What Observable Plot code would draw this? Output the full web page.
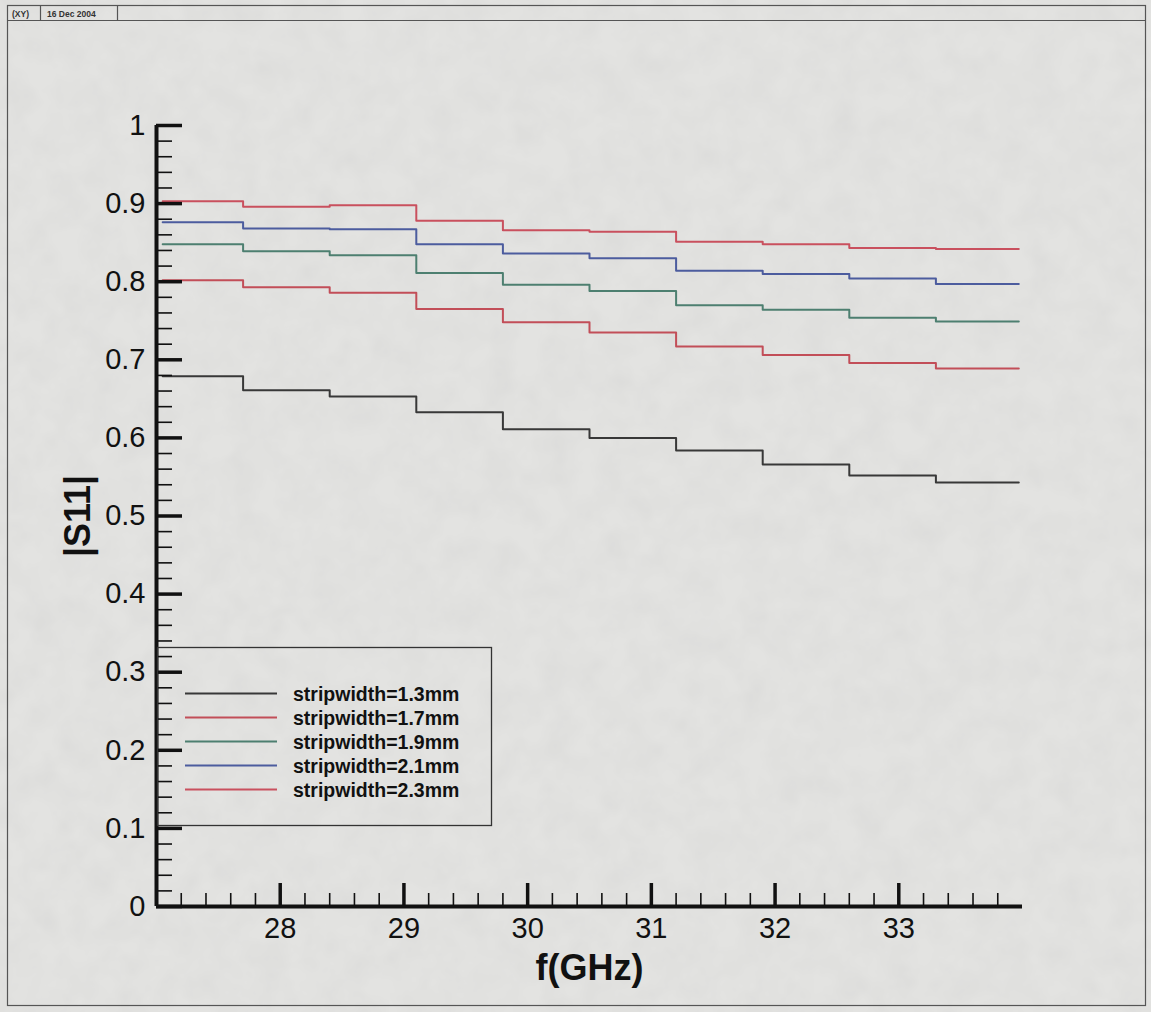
<!DOCTYPE html>
<html><head><meta charset="utf-8">
<script src="https://cdn.jsdelivr.net/npm/d3@7"></script>
<script src="https://cdn.jsdelivr.net/npm/@observablehq/plot@0.6"></script>
<style>
body{margin:0;background:#e3e3e1;}
#wrap{position:relative;width:1151px;height:1012px;background:#e3e3e1;overflow:hidden;font-family:"Liberation Sans",Arial,sans-serif;}
#wrap svg{position:absolute;left:0;top:0;}
</style></head><body><div id="wrap"></div>
<script>
// Frequency breakpoints (GHz) where each step starts; last entry is the end of the data
const freqBreaks = [27.05, 27.7, 28.4, 29.1, 29.8, 30.5, 31.2, 31.9, 32.6, 33.3, 33.97];
const seriesNames = ["stripwidth=1.3mm","stripwidth=1.7mm","stripwidth=1.9mm","stripwidth=2.1mm","stripwidth=2.3mm"];
const seriesColors = ["#383838","#c24e58","#4d7f70","#4c5c9e","#c9505e"];
const s13 = [0.679, 0.661, 0.653, 0.633, 0.611, 0.600, 0.584, 0.566, 0.552, 0.543];
const s17 = [0.802, 0.793, 0.786, 0.765, 0.748, 0.735, 0.717, 0.706, 0.696, 0.689];
const s19 = [0.848, 0.839, 0.834, 0.811, 0.796, 0.788, 0.770, 0.764, 0.754, 0.749];
const s21 = [0.876, 0.868, 0.867, 0.848, 0.836, 0.830, 0.814, 0.810, 0.804, 0.797];
const s23 = [0.903, 0.896, 0.898, 0.878, 0.866, 0.864, 0.851, 0.848, 0.843, 0.842];
const xMajor = [28, 29, 30, 31, 32, 33];
const xMinor = [27.2,27.4,27.6,27.8,28.2,28.4,28.6,28.8,29.2,29.4,29.6,29.8,30.2,30.4,30.6,30.8,31.2,31.4,31.6,31.8,32.2,32.4,32.6,32.8,33.2,33.4,33.6,33.8];
const yMajor = [0, 0.1, 0.2, 0.3, 0.4, 0.5, 0.6, 0.7, 0.8, 0.9, 1];
const yMinor = d3.range(0, 50).map(i => +(i * 0.02).toFixed(2)).filter(v => Math.round(v * 100) % 10 !== 0);

const allSeries = [s13, s17, s19, s21, s23];
const rows = [];
allSeries.forEach((vals, k) => {
  freqBreaks.forEach((f, i) => rows.push({name: seriesNames[k], f, s: vals[Math.min(i, vals.length - 1)]}));
});

const FONT = "'Liberation Sans', Arial, sans-serif";

// subtle paper texture behind everything
const bg = d3.select("#wrap").append("svg").attr("width", 1151).attr("height", 1012);
const flt = bg.append("defs").append("filter").attr("id", "paper").attr("x", 0).attr("y", 0).attr("width", "100%").attr("height", "100%");
flt.append("feTurbulence").attr("type", "fractalNoise").attr("baseFrequency", 0.035).attr("numOctaves", 3).attr("seed", 7);
flt.append("feColorMatrix").attr("type", "matrix").attr("values", "0 0 0 0 0.5  0 0 0 0 0.5  0 0 0 0 0.5  0.14 0.14 0.14 0 -0.16");
bg.append("rect").attr("width", 1151).attr("height", 1012).attr("fill", "#e3e3e1");
bg.append("rect").attr("width", 1151).attr("height", 1012).attr("filter", "url(#paper)");

const chart = Plot.plot({
  width: 1151, height: 1012,
  marginLeft: 156, marginRight: 129, marginTop: 125, marginBottom: 106,
  style: {background: "transparent", fontFamily: FONT, color: "#111", overflow: "visible"},
  x: {domain: [27, 34]},
  y: {domain: [0, 1]},
  color: {domain: seriesNames, range: seriesColors},
  marks: [
    Plot.line(rows, {x: "f", y: "s", z: "name", stroke: "name", curve: "step-after", strokeWidth: 2}),
    Plot.axisY(yMinor, {tickSize: -16, strokeWidth: 1.6, tickFormat: () => "", label: null}),
    Plot.axisY(yMajor, {tickSize: -26, strokeWidth: 3.5, tickFormat: () => "", label: null}),
    Plot.axisY(yMajor, {tickSize: 0, tickPadding: 11, fontSize: 29, tickFormat: d => String(d),
      label: "|S11|", labelAnchor: "center", labelOffset: 92, labelArrow: "none"}),
    Plot.axisX(xMinor, {tickSize: -13, strokeWidth: 1.6, tickFormat: () => "", label: null}),
    Plot.axisX(xMajor, {tickSize: -23, strokeWidth: 3.5, tickFormat: () => "", label: null}),
    Plot.axisX(xMajor, {tickSize: 0, tickPadding: 11, fontSize: 29, tickFormat: d => String(d),
      label: "f(GHz)", labelAnchor: "center", labelOffset: 73, labelArrow: "none"}),
    Plot.ruleX([27], {strokeWidth: 4, stroke: "#111"}),
    Plot.ruleY([0], {strokeWidth: 4, stroke: "#111"})
  ]
});
// bold axis titles
d3.select(chart).selectAll("[aria-label$='axis label'] text").attr("font-weight", "bold").attr("font-size", 36);
document.getElementById("wrap").appendChild(chart);

// Overlay: page frame, header box and legend
const ov = d3.select("#wrap").append("svg").attr("width", 1151).attr("height", 1012)
  .style("font-family", FONT).style("pointer-events", "none");
ov.append("rect").attr("x", 7.5).attr("y", 5.5).attr("width", 1138).attr("height", 1000)
  .attr("fill", "none").attr("stroke", "#555").attr("stroke-width", 1.2);
ov.append("line").attr("x1", 7.5).attr("x2", 1145.5).attr("y1", 20.5).attr("y2", 20.5).attr("stroke", "#555").attr("stroke-width", 1.2);
[40.5, 117.5].forEach(x => ov.append("line").attr("x1", x).attr("x2", x).attr("y1", 5.5).attr("y2", 20.5).attr("stroke", "#555").attr("stroke-width", 1.2));
ov.append("text").attr("x", 12).attr("y", 16.5).attr("font-size", 8.5).attr("font-weight", "bold").attr("fill", "#333").text("(XY)");
ov.append("text").attr("x", 47).attr("y", 16.5).attr("font-size", 8.5).attr("font-weight", "bold").attr("fill", "#333").text("16 Dec 2004");

const lg = ov.append("g");
lg.append("rect").attr("x", 157.5).attr("y", 647.5).attr("width", 334).attr("height", 178)
  .attr("fill", "none").attr("stroke", "#333").attr("stroke-width", 1.3);
seriesNames.forEach((n, i) => {
  const y = 693.5 + i * 24;
  lg.append("line").attr("x1", 185).attr("x2", 277).attr("y1", y).attr("y2", y)
    .attr("stroke", seriesColors[i]).attr("stroke-width", 2);
  lg.append("text").attr("x", 293).attr("y", y).attr("dy", "0.36em")
    .attr("font-size", 19.5).attr("font-weight", "bold").attr("fill", "#111").text(n);
});
</script></body></html>
